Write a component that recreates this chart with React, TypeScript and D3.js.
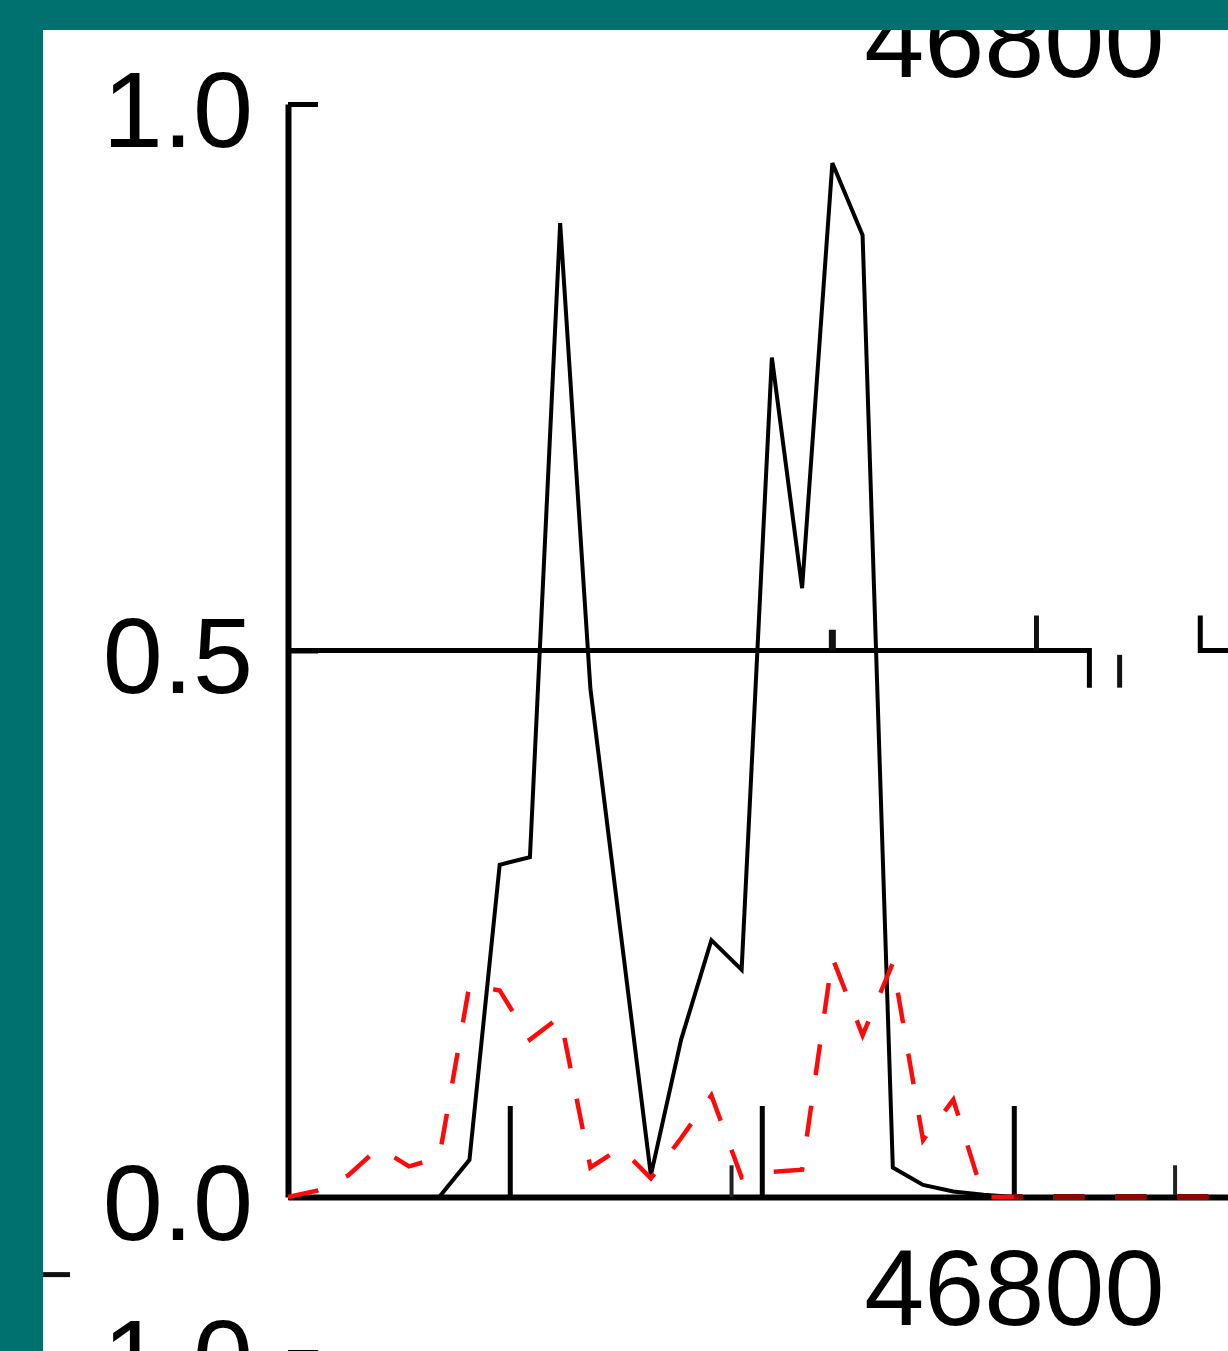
import React, { useEffect, useRef } from 'react';
import * as d3 from 'd3';

// deconvoluted mass spectrum panel (cropped view of a stacked figure)

const W = 1228;
const H = 1351;

const masses = [
  46512, 46524, 46536, 46548, 46560, 46572, 46584, 46596, 46608, 46620, 46632,
  46644, 46656, 46668, 46680, 46692, 46704, 46716, 46728, 46740, 46752, 46764,
  46776, 46788, 46800, 46812, 46824, 46836, 46848, 46860, 46872, 46884
];
const measured = [
  0, 0, 0, 0, 0, 0, 0.034, 0.304, 0.311, 0.891, 0.465,
  0.242, 0.02, 0.144, 0.235, 0.208, 0.768, 0.557, 0.946, 0.88, 0.027, 0.011,
  0.005, 0.002, 0, 0, 0, 0, 0, 0, 0, 0
];
const simulated = [
  0, 0.006, 0.02, 0.045, 0.028, 0.036, 0.194, 0.189, 0.144, 0.165, 0.027,
  0.045, 0.017, 0.054, 0.093, 0.018, 0.023, 0.025, 0.219, 0.148, 0.214, 0.052,
  0.089, 0, 0, 0, 0, 0, 0, 0, 0, 0
];

const yTicks = [0, 0.5, 1.0];
const xTicks = [46600, 46700, 46800];
const xLabelled = [46800];
const stickMasses = [46688, 46864];
const stickHeights = [0.029, 0.029];

// stacked neighbours: only part of their axes reach into this crop
const panels = [
  { shift: -1248, xAxis: true, yAxis: false },
  { shift: 0, xAxis: true, yAxis: true },
  { shift: 1248, xAxis: false, yAxis: true }
];

// fragments of the overlapping axis that crosses at 0.5
const overlayMain = [[46512, 0.5], [46830, 0.5], [46830, 0.466]];
const overlayRight = [[46874, 0.532], [46874, 0.5], [46890, 0.5]];
const overlayStubs = [
  { m: 46728, y0: 0.5, y1: 0.519, w: 7 },
  { m: 46809, y0: 0.5, y1: 0.532, w: 5 },
  { m: 46842, y0: 0.496, y1: 0.466, w: 5 }
];

const TEAL = '#00716f';
const FONT = '"Liberation Sans", Arial, sans-serif';

const App = () => {
  const svgRef = useRef(null);

  useEffect(() => {
    const svg = d3.select(svgRef.current);
    svg.selectAll('*').remove();

    const x = d3.scaleLinear().domain([46512, 46885]).range([288, 1228]);
    const y = d3.scaleLinear().domain([0, 1]).range([1197, 104]);

    svg.append('rect').attr('width', W).attr('height', H).attr('fill', '#fff');

    const defs = svg.append('defs');
    defs.append('clipPath').attr('id', 'tail')
      .append('rect')
      .attr('x', x(46800)).attr('y', y(0) - 4)
      .attr('width', W - x(46800)).attr('height', 8);

    // axes for the stacked panels
    panels.forEach((p) => {
      const g = svg.append('g').attr('transform', `translate(0,${p.shift})`);

      if (p.yAxis) {
        const yAxis = d3.axisLeft(y)
          .tickValues(p.shift > 0 ? [1.0] : yTicks)
          .tickFormat(d3.format('.1f'))
          .tickSize(-30)
          .tickSizeOuter(0)
          .tickPadding(35);
        const ya = g.append('g').attr('transform', `translate(${x(46512)},0)`).call(yAxis);
        ya.select('.domain').attr('stroke', '#000').attr('stroke-width', 6);
        ya.selectAll('.tick line').attr('stroke', '#000').attr('stroke-width', 5);
        ya.selectAll('.tick text')
          .attr('fill', '#000')
          .attr('font-family', FONT)
          .attr('font-size', 108)
          .attr('dy', '0.39em');
      }

      if (p.xAxis) {
        const xAxis = d3.axisBottom(x)
          .tickValues(xTicks)
          .tickFormat((d) => (xLabelled.includes(d) ? String(d) : ''))
          .tickSize(-91)
          .tickSizeOuter(0)
          .tickPadding(51);
        const xa = g.append('g').attr('transform', `translate(0,${y(0)})`).call(xAxis);
        xa.select('.domain').attr('stroke', '#000').attr('stroke-width', 6);
        xa.selectAll('.tick line').attr('stroke', '#000').attr('stroke-width', 5);
        xa.selectAll('.tick text')
          .attr('fill', '#000')
          .attr('font-family', FONT)
          .attr('font-size', 108);
      }
    });

    // short sticks on the baseline
    svg.append('g').selectAll('line')
      .data(stickMasses)
      .join('line')
      .attr('x1', (d) => x(d)).attr('x2', (d) => x(d))
      .attr('y1', y(0)).attr('y2', (d, i) => y(stickHeights[i]))
      .attr('stroke', '#222').attr('stroke-width', 4);

    // overlapping axis fragments
    const ov = d3.line().x((d) => x(d[0])).y((d) => y(d[1]));
    [overlayMain, overlayRight].forEach((pts) => {
      svg.append('path').attr('d', ov(pts))
        .attr('fill', 'none').attr('stroke', '#000')
        .attr('stroke-width', 5).attr('stroke-linejoin', 'miter');
    });
    svg.append('g').selectAll('line')
      .data(overlayStubs)
      .join('line')
      .attr('x1', (d) => x(d.m)).attr('x2', (d) => x(d.m))
      .attr('y1', (d) => y(d.y0)).attr('y2', (d) => y(d.y1))
      .attr('stroke', '#111').attr('stroke-width', (d) => d.w);

    const line = d3.line()
      .x((d, i) => x(masses[i]))
      .y((d) => y(d));

    // measured spectrum
    svg.append('path')
      .attr('d', line(measured))
      .attr('fill', 'none')
      .attr('stroke', '#000')
      .attr('stroke-width', 4)
      .attr('stroke-linejoin', 'miter');

    // simulated envelope (dashed red)
    svg.append('path')
      .attr('d', line(simulated))
      .attr('fill', 'none')
      .attr('stroke', '#ff0a0a')
      .attr('stroke-width', 4.5)
      .attr('stroke-dasharray', '31,31');
    // where it lies on the black baseline it reads darker
    svg.append('path')
      .attr('d', line(simulated))
      .attr('clip-path', 'url(#tail)')
      .attr('fill', 'none')
      .attr('stroke', '#8c0606')
      .attr('stroke-width', 6)
      .attr('stroke-dasharray', '31,31');

    // small mark from the neighbouring column
    svg.append('line')
      .attr('x1', 43).attr('x2', 70)
      .attr('y1', y(-0.071)).attr('y2', y(-0.071))
      .attr('stroke', '#111').attr('stroke-width', 5);

    // teal frame
    svg.append('rect').attr('x', 0).attr('y', 0).attr('width', W).attr('height', 30).attr('fill', TEAL);
    svg.append('rect').attr('x', 0).attr('y', 0).attr('width', 43).attr('height', H).attr('fill', TEAL);
  }, []);

  return (
    <svg
      ref={svgRef}
      width={W}
      height={H}
      style={{ position: 'absolute', left: 0, top: 0, display: 'block' }}
    />
  );
};

export default App;
